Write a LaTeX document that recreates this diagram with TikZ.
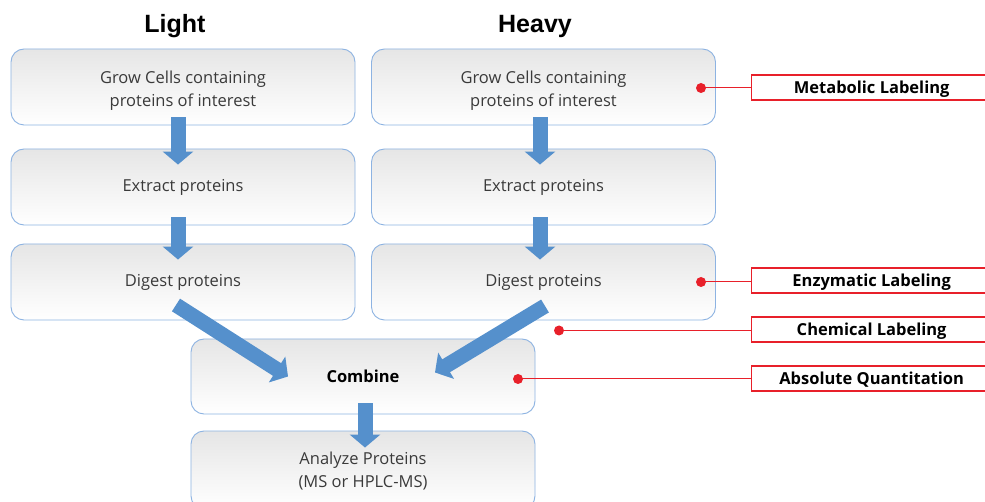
\documentclass[tikz,border=0pt]{standalone}
\usepackage{fontspec}
\setmainfont{Open Sans}
\newfontfamily\titlefont{Liberation Sans}
\usetikzlibrary{arrows.meta,calc}
\definecolor{boxline}{HTML}{8DB3E2}
\definecolor{arrowblue}{HTML}{5590CC}
\definecolor{labred}{HTML}{E8202A}
\definecolor{txtgray}{HTML}{3A3A3A}
\newcommand{\twolines}[3]{\raisebox{#3}[\height][\depth]{\begin{tabular}{@{}c@{}}#1\\#2\end{tabular}}}
\newcommand{\lowered}[1]{\raisebox{-1.5pt}[\height][\depth]{#1}}
\tikzset{
  stepbox/.style={draw=boxline, line width=0.9pt, rounded corners=13pt,
    top color=black!10, bottom color=white,
    minimum width=344pt, minimum height=76pt, align=center,
    text=txtgray, font=\fontsize{16.5}{23}\selectfont, inner sep=0pt},
  blockarrow/.style={draw=arrowblue, line width=15pt,
    -{Triangle[width=30pt,length=13pt]}},
  reddot/.style={circle, fill=labred, draw=none, minimum size=10pt, inner sep=0pt},
  redline/.style={draw=labred, line width=1pt},
  labbox/.style={draw=labred, line width=1.3pt, fill=white, minimum width=240pt,
    minimum height=25pt, inner sep=0pt, font=\bfseries\fontsize{16.5}{18}\selectfont},
  coltitle/.style={font=\titlefont\bfseries\fontsize{25}{28}\selectfont}
}
\begin{document}
\begin{tikzpicture}[x=1pt,y=-1pt]
\clip (0,0) rectangle (985,502);
\fill[white] (0,0) rectangle (985,502);
% titles
\node[coltitle] (tl) at (175,26) {Light};
\node[coltitle] (th) at (535,26) {Heavy};
% boxes
\node[stepbox] (l1) at (183,87) {\twolines{Grow Cells containing}{proteins of interest}{-3pt}};
\node[stepbox] (l2) at (183,187) {Extract proteins};
\node[stepbox] (l3) at (183,282) {Digest proteins};
\node[stepbox] (h1) at (543.5,87) {\twolines{Grow Cells containing}{proteins of interest}{-3pt}};
\node[stepbox] (h2) at (543.5,187) {Extract proteins};
\node[stepbox] (h3) at (543.5,282) {Digest proteins};
\node[stepbox, minimum height=75pt] (c) at (363,376.5) {\textbf{\color{black}Combine}};
\node[stepbox, minimum height=78pt] (an) at (363,470) {\twolines{Analyze Proteins}{(MS or HPLC-MS)}{-1pt}};
% arrows
\draw[blockarrow] ([xshift=-5pt,yshift=8pt]l1.south) -- ([xshift=-5pt,yshift=-16pt]l2.north);
\draw[blockarrow] ([xshift=-5pt,yshift=8pt]l2.south) -- ([xshift=-5pt,yshift=-16pt]l3.north);
\draw[blockarrow] ([xshift=-3.5pt,yshift=8pt]h1.south) -- ([xshift=-3.5pt,yshift=-16pt]h2.north);
\draw[blockarrow] ([xshift=-3.5pt,yshift=8pt]h2.south) -- ([xshift=-3.5pt,yshift=-16pt]h3.north);
\draw[blockarrow] ([xshift=-7pt,yshift=-23pt]l3.center) -- ([xshift=-75pt]c.center);
\draw[blockarrow] ([xshift=1.5pt,yshift=-24pt]h3.center) -- ([xshift=72pt,yshift=4pt]c.center);
\draw[blockarrow] ([xshift=2pt,yshift=11pt]c.south) -- ([xshift=2pt,yshift=-17pt]an.north);
% labels
\node[labbox, anchor=west] (m1) at (751,87.5) {\lowered{Metabolic Labeling}};
\node[labbox, anchor=west] (m2) at (751,280.5) {\lowered{Enzymatic Labeling}};
\node[labbox, anchor=west] (m3) at (751,329.5) {\lowered{Chemical Labeling}};
\node[labbox, anchor=west] (m4) at (751,378.5) {\lowered{Absolute Quantitation}};
\node[reddot] (d1) at (701,88) {};
\node[reddot] (d2) at (701,282) {};
\node[reddot] (d3) at (559,330.5) {};
\node[reddot] (d4) at (518,379) {};
\draw[redline] (d1.center) -- (d1.center -| m1.west);
\draw[redline] (d2.center) -- (d2.center -| m2.west);
\draw[redline] (d3.center) -- (d3.center -| m3.west);
\draw[redline] (d4.center) -- (d4.center -| m4.west);
\end{tikzpicture}
\end{document}
